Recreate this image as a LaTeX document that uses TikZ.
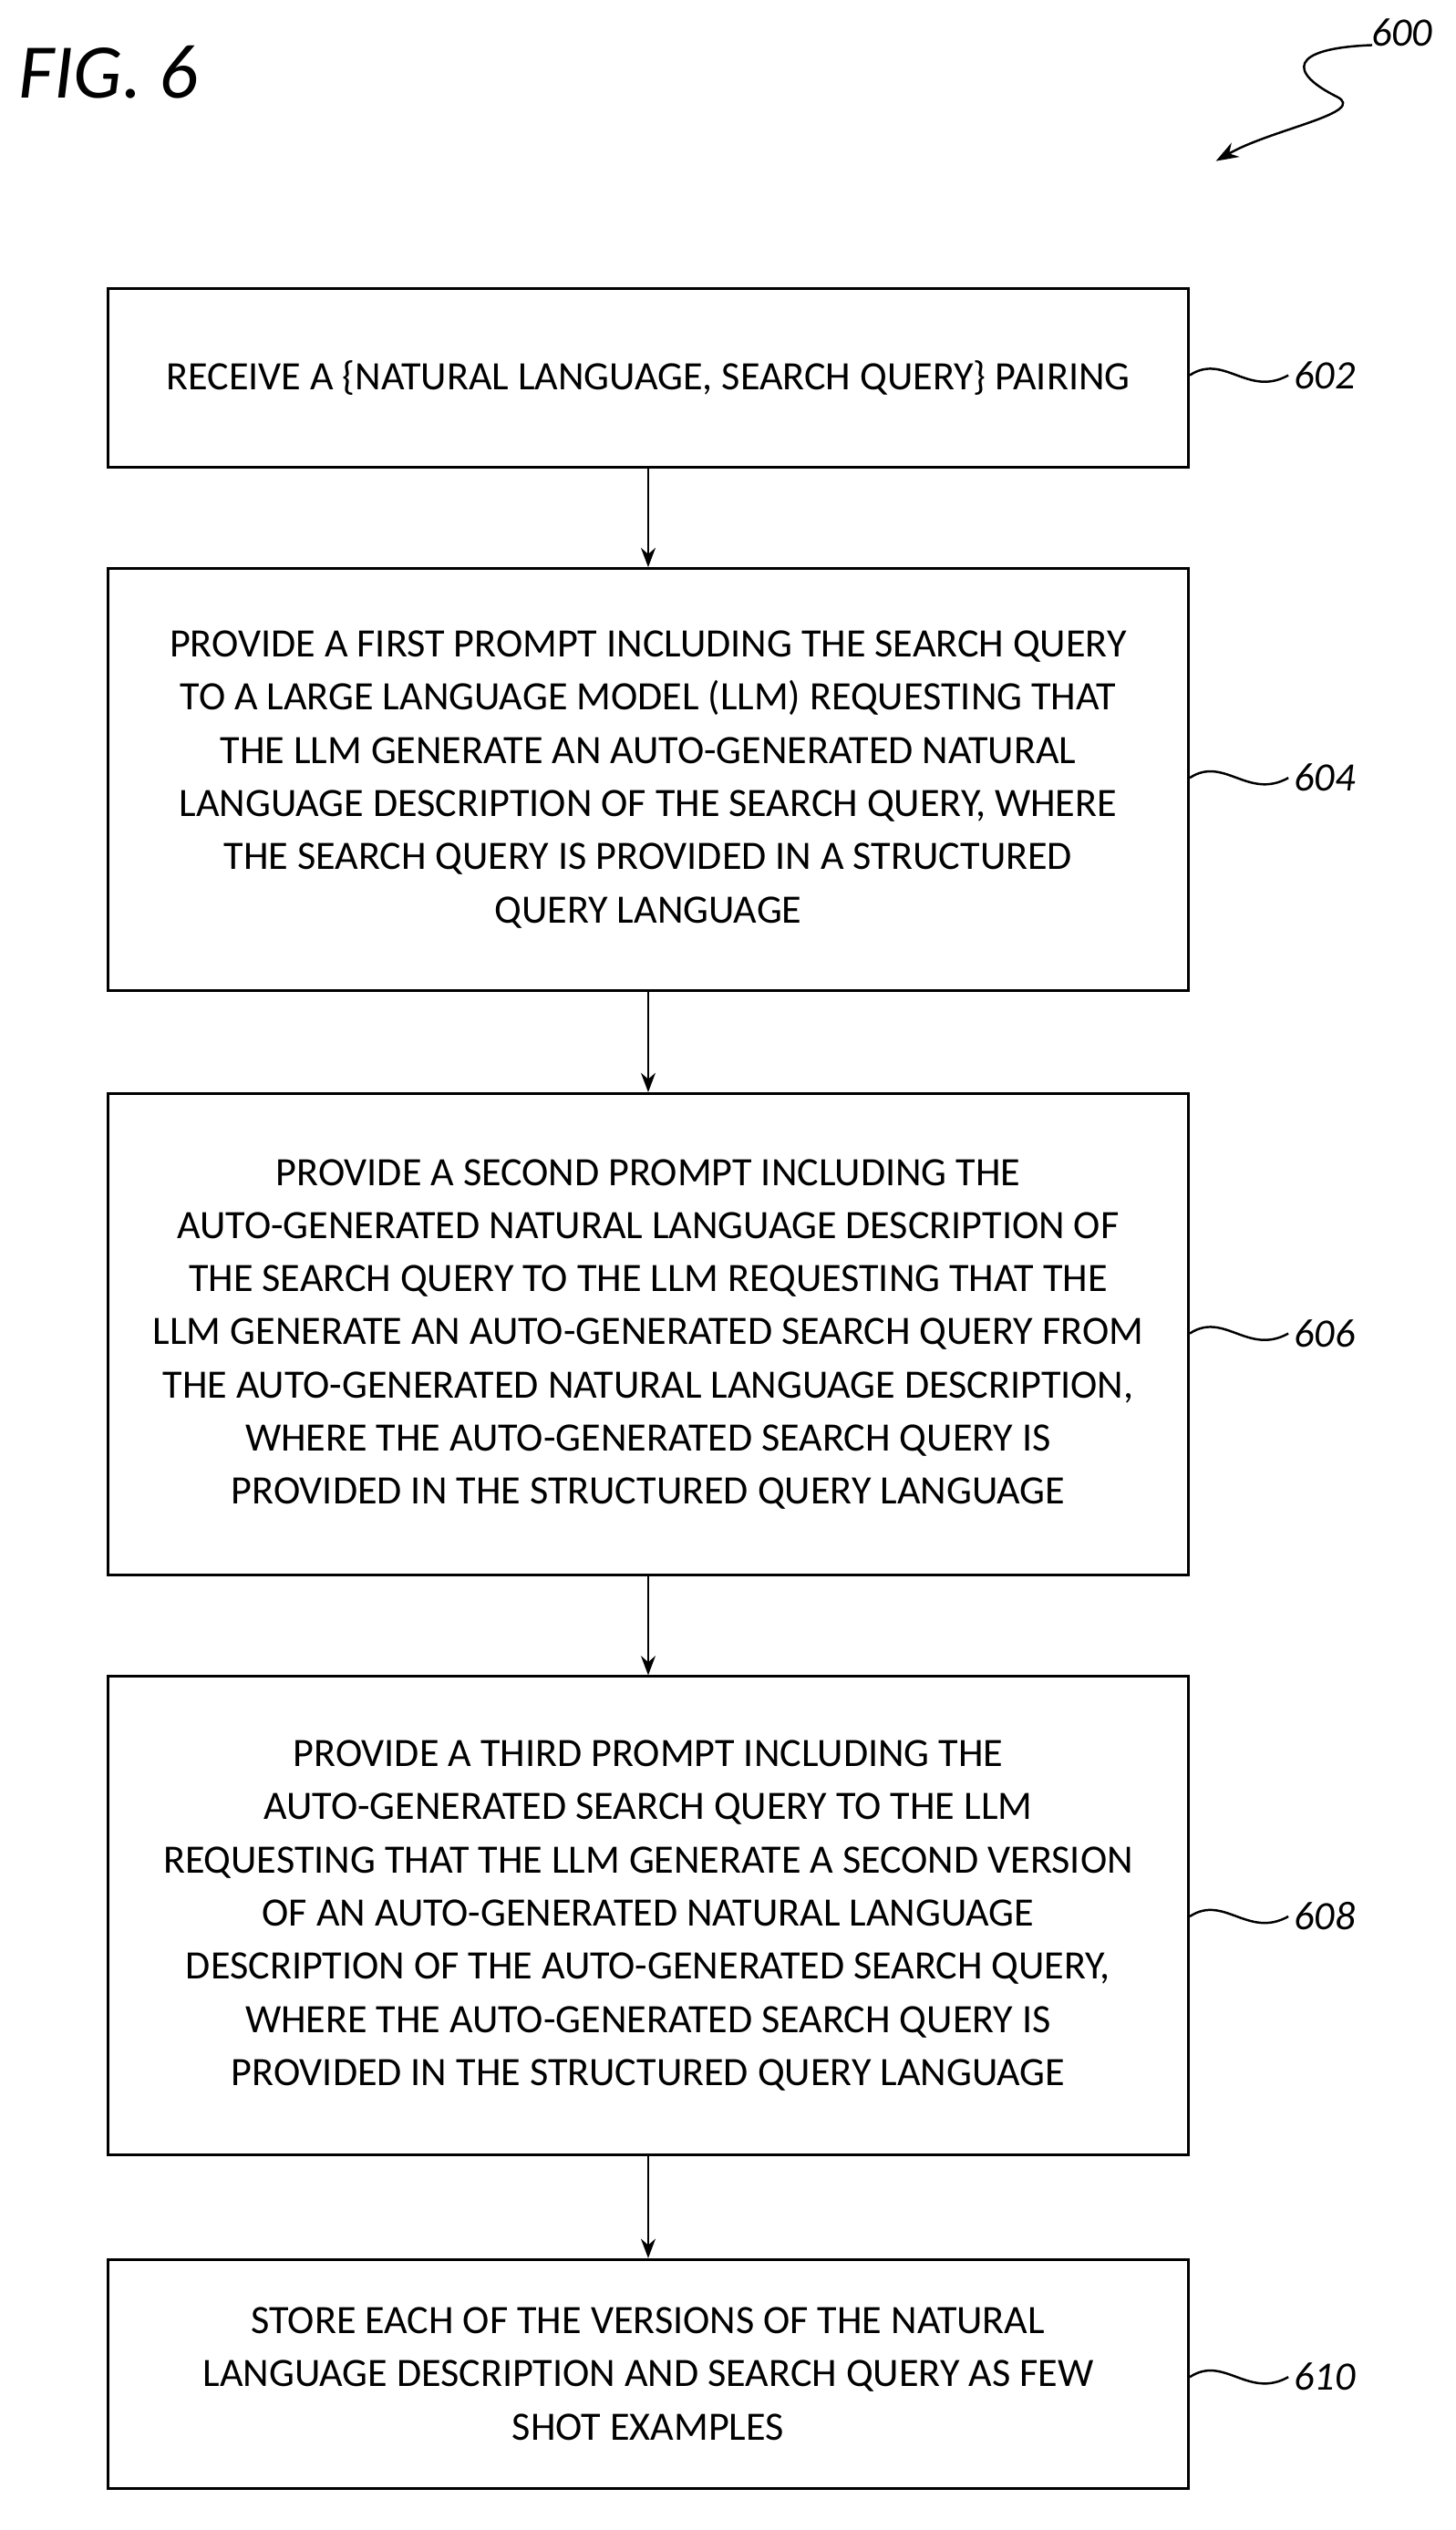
\documentclass[tikz,border=0pt]{standalone}
\usepackage{fontspec}
\setmainfont{Carlito}
\usetikzlibrary{arrows.meta}
\begin{document}
\begin{tikzpicture}[x=1pt,y=-1pt,
  box/.style={draw,line width=1.6pt,align=center,font=\fontsize{25}{33}\selectfont,inner sep=0pt},
  arr/.style={line width=1.4pt,-{Stealth[length=12pt,width=9pt]}},
  sq/.style={line width=1.4pt},
  lab/.style={font=\itshape\fontsize{25}{30}\selectfont,anchor=west}]
\useasboundingbox (0,0) rectangle (904,1571);
\node[font=\itshape\fontsize{48}{50}\selectfont,anchor=west] (fig) at (8,45) {FIG. 6};
\node[lab] (l600) at (848,20) {600};
\coordinate (a1) at (852,28);
\coordinate (a2) at (755,100);
\draw[sq,-{Stealth[length=14pt,width=10pt]}] (a1) .. controls (800,30) and (800,45) .. (830,60) .. controls (850,70) and (790,80) .. (a2);
\node[box,minimum width=671pt,minimum height=111pt] (b1) at (402.5,234.5) {RECEIVE A \{NATURAL LANGUAGE, SEARCH QUERY\} PAIRING};
\node[box,minimum width=671pt,minimum height=262pt] (b2) at (402.5,484) {PROVIDE A FIRST PROMPT INCLUDING THE SEARCH QUERY\\TO A LARGE LANGUAGE MODEL (LLM) REQUESTING THAT\\THE LLM GENERATE AN AUTO-GENERATED NATURAL\\LANGUAGE DESCRIPTION OF THE SEARCH QUERY, WHERE\\THE SEARCH QUERY IS PROVIDED IN A STRUCTURED\\QUERY LANGUAGE};
\node[box,minimum width=671pt,minimum height=299pt] (b3) at (402.5,828.5) {PROVIDE A SECOND PROMPT INCLUDING THE\\AUTO-GENERATED NATURAL LANGUAGE DESCRIPTION OF\\THE SEARCH QUERY TO THE LLM REQUESTING THAT THE\\LLM GENERATE AN AUTO-GENERATED SEARCH QUERY FROM\\THE AUTO-GENERATED NATURAL LANGUAGE DESCRIPTION,\\WHERE THE AUTO-GENERATED SEARCH QUERY IS\\PROVIDED IN THE STRUCTURED QUERY LANGUAGE};
\node[box,minimum width=671pt,minimum height=297pt] (b4) at (402.5,1189.5) {PROVIDE A THIRD PROMPT INCLUDING THE\\AUTO-GENERATED SEARCH QUERY TO THE LLM\\REQUESTING THAT THE LLM GENERATE A SECOND VERSION\\OF AN AUTO-GENERATED NATURAL LANGUAGE\\DESCRIPTION OF THE AUTO-GENERATED SEARCH QUERY,\\WHERE THE AUTO-GENERATED SEARCH QUERY IS\\PROVIDED IN THE STRUCTURED QUERY LANGUAGE};
\node[box,minimum width=671pt,minimum height=142pt] (b5) at (402.5,1474) {STORE EACH OF THE VERSIONS OF THE NATURAL\\LANGUAGE DESCRIPTION AND SEARCH QUERY AS FEW\\SHOT EXAMPLES};
\draw[arr] (b1.south) -- (b2.north);
\draw[arr] (b2.south) -- (b3.north);
\draw[arr] (b3.south) -- (b4.north);
\draw[arr] (b4.south) -- (b5.north);
\foreach \b/\y/\n in {b1/233/602,b2/483/604,b3/828/606,b4/1190/608,b5/1476/610}{
  \node[lab] (L\n) at (800,\y) {\n};
  \draw[sq] (b1.east |- 0,\y) .. controls (760,\y-14) and (775,\y+14) .. (L\n.west);
}
\end{tikzpicture}
\end{document}
